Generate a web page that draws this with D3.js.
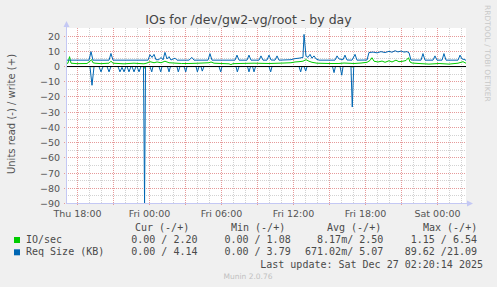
<!DOCTYPE html>
<html>
<head>
<meta charset="utf-8">
<script src="https://cdn.jsdelivr.net/npm/d3@7"></script>
<style>
  body { margin: 0; background: #f0f0f0; }
  svg { display: block; }
  text { white-space: pre; }
  .grid path.domain { display: none; }
  .grid line { stroke-dasharray: 1,1; shape-rendering: crispEdges; }
  .grid.minor line { stroke: #d2d2d2; }
  .grid.major line { stroke: #e69a9a; }
  .labels path.domain { display: none; }
  .labels text { font-family: "DejaVu Sans", sans-serif; font-size: 9.5px; fill: #555; }
</style>
</head>
<body>
<svg width="497" height="287"></svg>
<script>
var title = "IOs for /dev/gw2-vg/root - by day";
var vLabel = "Units read (-) / write (+)";
var yMajorTicks = [20, 10, 0, -10, -20, -30, -40, -50, -60, -70, -80, -90];
var yMinorTicks = [15, 5, -5, -15, -25, -35, -45, -55, -65, -75, -85];

// [hours since Thu 25 Dec 2025 00:00, value]
var ioRead = [[17.08, 0], [19.17, 0], [19.25, -0.2], [19.33, 0], [23.54, 0], [23.63, -1.15], [23.71, 0],
  [40.83, 0], [40.94, -0.3], [41.06, 0], [50.42, 0]];

var ioWrite = [[17.08, 2], [17.25, 2.2], [17.38, 6.5], [17.5, 2.2], [18.0, 1.9], [18.83, 2], [19.08, 3.5],
  [19.21, 4.5], [19.33, 2.5], [19.5, 2.2], [20.0, 1.9], [20.67, 2.2], [20.83, 3.5], [21.0, 2.2], [21.92, 1.8],
  [22.75, 2.2], [23.58, 1.8], [23.83, 2.3], [24.08, 3.2], [24.42, 2.5], [24.67, 3], [25.0, 2.5], [25.33, 3.5],
  [25.67, 2.5], [26.08, 2.3], [26.7, 2.0], [27.33, 2], [28.17, 2.2], [29.0, 2.5], [29.17, 3], [29.42, 2.2],
  [30.67, 1.8], [30.83, 1.3], [31.0, 1.9], [31.5, 2], [32.75, 2.2], [34.0, 2], [35.25, 2.3], [35.83, 2.5],
  [36.17, 3], [36.5, 3.2], [36.83, 3.5], [37.08, 4.5], [37.33, 3.5], [37.58, 2.8], [38.0, 2.2], [39.0, 2],
  [39.83, 2], [40.25, 2.3], [41.08, 2], [41.67, 2.3], [42.17, 2.8], [42.42, 4], [42.58, 5.8], [42.75, 3.5],
  [43.08, 3], [43.42, 3.6], [43.67, 2.8], [44.0, 3.8], [44.25, 3], [44.58, 4.2], [44.83, 3.2], [45.17, 3.5],
  [45.42, 4], [45.63, 5.8], [45.75, 3], [45.92, 2.3], [46.5, 2], [47.33, 1.6], [48.17, 2], [49.0, 1.6],
  [49.75, 2.2], [50.17, 3.2], [50.33, 2.5], [50.42, 2.2]];

var reqRead = [[17.08, 0], [19.08, 0], [19.25, -12.3], [19.42, 0], [19.83, 0], [20.0, -3.5], [20.17, 0],
  [20.5, 0], [20.67, -3.5], [20.83, 0], [21.42, 0], [21.58, -3.5], [21.75, -0.5], [21.92, -3.5], [22.08, 0],
  [22.17, 0], [22.33, -3.5], [22.5, 0], [22.58, 0], [22.75, -3.5], [22.92, 0], [23.0, 0], [23.17, -3.5],
  [23.33, 0], [23.54, 0], [23.63, -89.62], [23.71, 0], [24.08, 0], [24.23, -3.5], [24.33, 0], [24.83, 0],
  [24.98, -3.5], [25.08, 0], [25.54, 0], [25.67, -3.5], [25.79, 0], [26.33, 0], [26.44, -3.5], [26.58, 0],
  [26.92, 0], [27.06, -3.5], [27.17, 0], [27.92, 0], [28.03, -3.5], [28.17, 0], [28.33, 0], [28.44, -3],
  [28.58, 0], [29.83, 0], [29.98, -3.5], [30.08, 0], [31.25, 0], [31.36, -3.5], [31.5, 0], [32.21, 0],
  [32.33, -3.5], [32.46, 0], [32.63, 0], [32.75, -3.5], [32.88, 0], [34.0, 0], [34.14, -3.5], [34.25, 0],
  [36.5, 0], [36.64, -3.5], [36.75, 0], [36.92, 0], [37.06, -3], [37.17, 0], [39.29, 0], [39.42, -4],
  [39.54, 0], [39.92, 0], [40.06, -5.7], [40.17, 0], [40.83, 0], [40.94, -26.6], [41.06, 0], [50.42, 0]];

var reqWrite = [[17.08, 4.2], [19.0, 4.2], [19.17, 9.8], [19.33, 4.2], [20.67, 4.2], [20.83, 8.6], [21.0, 4.2],
  [23.92, 4.2], [24.08, 7.8], [24.25, 6], [24.42, 8], [24.58, 4.5], [24.83, 4.5], [25.0, 6], [25.17, 4.4],
  [25.33, 9.3], [25.5, 5], [25.67, 6.5], [25.83, 4.3], [26.17, 5.5], [26.33, 4.2], [27.33, 4.2], [27.58, 6],
  [27.75, 4.2], [28.92, 4.2], [29.08, 8.5], [29.25, 4.2], [31.17, 4.2], [31.33, 7.5], [31.5, 4.2], [32.17, 4.2],
  [32.33, 7.5], [32.5, 4.2], [33.17, 4.2], [33.33, 7], [33.5, 4.2], [33.83, 4.2], [34.0, 7.5], [34.17, 4.3],
  [34.5, 4.2], [34.67, 7], [34.83, 4.2], [35.83, 4.5], [36.17, 5.2], [36.5, 5.5], [36.83, 6], [36.92, 21.1],
  [37.08, 7], [37.25, 6], [37.42, 8], [37.58, 5.5], [37.75, 7], [37.92, 5], [38.17, 4.2], [39.5, 4.2],
  [39.67, 7], [39.83, 5], [40.17, 4.5], [40.33, 7.5], [40.5, 4.3], [40.92, 4.2], [41.17, 8], [41.33, 4.2],
  [42.17, 4.3], [42.33, 9.2], [42.67, 9.5], [43.0, 9], [43.33, 9.8], [43.67, 9.2], [44.0, 10], [44.25, 9.4],
  [44.5, 10.4], [44.75, 9.6], [45.0, 10.2], [45.25, 9.5], [45.5, 9.8], [45.67, 9], [45.83, 4.3], [46.67, 4.2],
  [46.83, 8.5], [47.0, 4.2], [47.67, 4.2], [47.83, 7], [48.0, 4.2], [48.42, 4.2], [48.58, 8.5], [48.75, 4.2],
  [49.75, 4.2], [49.92, 7.5], [50.08, 5], [50.33, 4.5], [50.42, 4]];

var seriesNames = ["IO/sec", "Req Size (KB)"];
var colHeads = ["Cur (-/+)", "Min (-/+)", "Avg (-/+)", "Max (-/+)"];
var curVals = ["0.00 / 2.20", "0.00 / 4.14"];
var minVals = ["0.00 / 1.08", "0.00 / 3.79"];
var avgVals = ["8.17m/ 2.50", "671.02m/ 5.07"];
var maxVals = ["1.15 / 6.54", "89.62 /21.09"];
var lastUpdate = "Last update: Sat Dec 27 02:20:14 2025";
var version = "Munin 2.0.76";

var colors = ["#00cc00", "#0066b3"];
var axisColor = "#c4c8f4";

var svg = d3.select("svg"),
    width = +svg.attr("width"),
    height = +svg.attr("height"),
    plot = {left: 66, right: 466, top: 28, bottom: 203};

var base = new Date(2025, 11, 25).getTime();
function hours(h) { return new Date(base + h * 3600e3); }

var x = d3.scaleTime()
    .domain([hours(17 + 5 / 60), hours(50 + 25 / 60)])
    .range([plot.left, plot.right]);
var y = d3.scaleLinear()
    .domain([-90, 25])
    .range([plot.bottom, plot.top]);
var xr = x.copy().interpolate(d3.interpolateRound),
    yr = y.copy().interpolate(d3.interpolateRound);

svg.append("rect").attr("width", width).attr("height", height).attr("fill", "#f0f0f0");
svg.append("rect")
    .attr("x", plot.left).attr("y", plot.top)
    .attr("width", plot.right - plot.left).attr("height", plot.bottom - plot.top)
    .attr("fill", "#fff");

// grid: minor every hour / 5 units, major every 3 hours / 10 units
var hourMinor = d3.timeHour.every(1).range(x.domain()[0], x.domain()[1]).filter(function(d) { return d.getHours() % 3; });
var hourMajor = d3.timeHour.every(3).range(x.domain()[0], x.domain()[1]);

svg.append("g").attr("class", "grid minor")
    .attr("transform", "translate(0," + plot.bottom + ")")
    .call(d3.axisBottom(xr).tickValues(hourMinor).tickSize(-(plot.bottom - plot.top)).tickFormat(""));
svg.append("g").attr("class", "grid minor")
    .attr("transform", "translate(" + plot.left + ",0)")
    .call(d3.axisLeft(yr).tickValues(yMinorTicks).tickSize(-(plot.right - plot.left)).tickFormat(""));
svg.append("g").attr("class", "grid major")
    .attr("transform", "translate(0," + (plot.bottom + 2) + ")")
    .call(d3.axisBottom(xr).tickValues(hourMajor).tickSize(-(plot.bottom + 2 - plot.top)).tickFormat(""));
svg.append("g").attr("class", "grid major")
    .attr("transform", "translate(" + (plot.left - 2) + ",0)")
    .call(d3.axisLeft(yr).tickValues(yMajorTicks).tickSize(-(plot.right - plot.left + 2)).tickFormat(""));

// data
svg.append("clipPath").attr("id", "clip")
  .append("rect").attr("x", plot.left).attr("y", plot.top)
    .attr("width", plot.right - plot.left).attr("height", plot.bottom - plot.top + 1);

var line = d3.line()
    .x(function(d) { return x(hours(d[0])); })
    .y(function(d) { return y(d[1]) + 0.5; });

var lines = svg.append("g").attr("clip-path", "url(#clip)").attr("fill", "none").attr("stroke-width", 1);
[[ioRead, 0], [ioWrite, 0], [reqRead, 1], [reqWrite, 1]].forEach(function(s) {
  lines.append("path").datum(s[0]).attr("stroke", colors[s[1]]).attr("d", line);
});

// zero rule
svg.append("line")
    .attr("x1", plot.left).attr("x2", plot.right)
    .attr("y1", yr(0) + 0.5).attr("y2", yr(0) + 0.5)
    .attr("stroke", "#000").attr("shape-rendering", "crispEdges");

// axes with arrows
svg.append("line")
    .attr("x1", plot.left + 0.5).attr("x2", plot.left + 0.5)
    .attr("y1", plot.bottom + 0.5).attr("y2", plot.top - 2)
    .attr("stroke", axisColor).attr("shape-rendering", "crispEdges");
svg.append("line")
    .attr("x1", plot.left).attr("x2", plot.right + 3)
    .attr("y1", plot.bottom + 0.5).attr("y2", plot.bottom + 0.5)
    .attr("stroke", axisColor).attr("shape-rendering", "crispEdges");
svg.append("path")
    .attr("d", "M" + (plot.left + 0.5) + "," + (plot.top - 7) + "l3,6h-6z")
    .attr("fill", axisColor);
svg.append("path")
    .attr("d", "M" + (plot.right + 7) + "," + (plot.bottom + 0.5) + "l-6,-3v6z")
    .attr("fill", axisColor);

// tick labels
svg.append("g").attr("class", "labels")
    .attr("transform", "translate(" + plot.left + ",0)")
    .call(d3.axisLeft(yr).tickValues(yMajorTicks).tickSize(0).tickPadding(6));
svg.append("g").attr("class", "labels")
    .attr("transform", "translate(0," + plot.bottom + ")")
    .call(d3.axisBottom(xr).ticks(d3.timeHour.every(6)).tickFormat(d3.timeFormat("%a %H:%M")).tickSize(0).tickPadding(7));

// titles
svg.append("text")
    .attr("x", 248.5).attr("y", 23.5)
    .attr("text-anchor", "middle")
    .attr("font-family", "DejaVu Sans, sans-serif").attr("font-size", 12.5)
    .attr("fill", "#444")
    .text(title);
svg.append("text")
    .attr("transform", "translate(15,114) rotate(-90)")
    .attr("text-anchor", "middle")
    .attr("font-family", "DejaVu Sans, sans-serif").attr("font-size", 10)
    .attr("fill", "#555")
    .text(vLabel);
svg.append("text")
    .attr("transform", "translate(485,5) rotate(90)")
    .attr("font-family", "DejaVu Sans, sans-serif").attr("font-size", 7.5)
    .attr("fill", "#c8c8c8")
    .text("RRDTOOL / TOBI OETIKER");

// legend
var mono = "DejaVu Sans Mono, monospace";
var legend = svg.append("g").attr("font-family", mono).attr("font-size", 10).attr("fill", "#4a4a4a");
var headX = [135, 231, 327, 423], colEnd = [197.5, 290.7, 383.3, 477];
colHeads.forEach(function(h, i) {
  legend.append("text").attr("x", headX[i]).attr("y", 230.7).text(h);
});
var cols = [curVals, minVals, avgVals, maxVals];
seriesNames.forEach(function(name, r) {
  var by = 243 + r * 12.3;
  legend.append("rect").attr("x", 14).attr("y", by - 6).attr("width", 6).attr("height", 6).attr("fill", colors[r]);
  legend.append("text").attr("x", 26).attr("y", by).text(name);
  cols.forEach(function(c, i) {
    legend.append("text").attr("x", colEnd[i]).attr("y", by).attr("text-anchor", "end").text(c[r]);
  });
});
legend.append("text").attr("x", 483).attr("y", 267.6).attr("text-anchor", "end").text(lastUpdate);

svg.append("text")
    .attr("x", 248).attr("y", 279)
    .attr("text-anchor", "middle")
    .attr("font-family", "DejaVu Sans, sans-serif").attr("font-size", 7.5)
    .attr("fill", "#c0c0c0")
    .text(version);
</script>
</body>
</html>
